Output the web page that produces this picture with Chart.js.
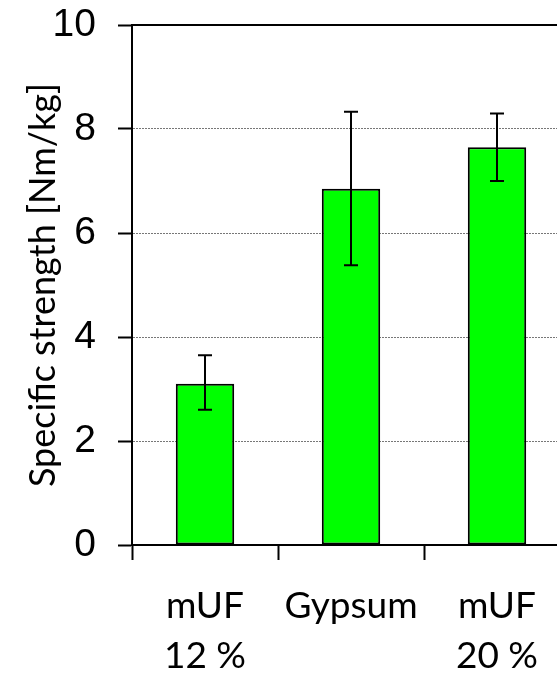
<!DOCTYPE html>
<html>
<head>
<meta charset="utf-8">
<script src="https://cdn.jsdelivr.net/npm/chart.js@4"></script>
<style>
  html, body { margin: 0; padding: 0; background: #fff; overflow: hidden; }
  #wrap { width: 580px; height: 673px; position: relative; }
</style>
</head>
<body>
<div id="wrap"><canvas id="strengthChart"></canvas></div>
<script>
// categories and measured values
const categories = [['mUF', '12 %'], ['Gypsum'], ['mUF', '20 %']];
const strengthMean = [3.1, 6.85, 7.65];
const strengthLow = [2.6, 5.38, 7.0];
const strengthHigh = [3.65, 8.33, 8.3];
const yTicks = [0, 2, 4, 6, 8, 10];

// error bars + top frame line
const errorBars = {
    id: 'errorBars',
    afterDatasetsDraw(chart) {
        const ctx = chart.ctx;
        const x = chart.scales.x;
        const y = chart.scales.y;
        const area = chart.chartArea;
        ctx.save();
        ctx.strokeStyle = '#000';
        ctx.lineWidth = 2;
        ctx.beginPath();
        ctx.moveTo(area.left, y.getPixelForValue(10));
        ctx.lineTo(area.right, y.getPixelForValue(10));
        ctx.stroke();
        strengthMean.forEach((v, i) => {
            const cx = x.getPixelForValue(i);
            const top = y.getPixelForValue(strengthHigh[i]);
            const bot = y.getPixelForValue(strengthLow[i]);
            ctx.beginPath();
            ctx.moveTo(cx, top);
            ctx.lineTo(cx, bot);
            ctx.moveTo(cx - 7, top);
            ctx.lineTo(cx + 7, top);
            ctx.moveTo(cx - 7, bot);
            ctx.lineTo(cx + 7, bot);
            ctx.stroke();
        });
        ctx.restore();
    }
};

const ctx = document.getElementById('strengthChart').getContext('2d');
new Chart(ctx, {
    type: 'bar',
    data: {
        labels: categories,
        datasets: [{
            data: strengthMean,
            backgroundColor: '#00ff00',
            borderColor: '#000',
            borderWidth: 2,
            borderSkipped: false,
            categoryPercentage: 1,
            barPercentage: 0.4
        }]
    },
    options: {
        responsive: true,
        maintainAspectRatio: false,
        animation: false,
        layout: { padding: { top: 25, right: 10, left: 22, bottom: 0 } },
        plugins: { legend: { display: false }, tooltip: { enabled: false } },
        scales: {
            x: {
                grid: {
                    offset: true,
                    drawOnChartArea: false,
                    tickLength: 15,
                    tickColor: '#000',
                    tickWidth: 2
                },
                border: { color: '#000', width: 2 },
                ticks: {
                    color: '#000',
                    padding: 21,
                    font: { family: 'Lato', size: 37, lineHeight: 1.35 }
                },
                afterFit(scale) { scale.height = 128; }
            },
            y: {
                min: 0,
                max: 10,
                afterBuildTicks(scale) { scale.ticks = yTicks.map(v => ({ value: v })); },
                grid: {
                    color: '#777',
                    lineWidth: 1,
                    tickLength: 14,
                    tickColor: '#000',
                    tickWidth: 2
                },
                border: { color: '#000', width: 2, dash: [2, 1] },
                ticks: {
                    color: '#000',
                    padding: 22,
                    font: { family: 'Liberation Sans', size: 39 }
                },
                title: {
                    display: true,
                    text: 'Specific strength [Nm/kg]',
                    color: '#000',
                    padding: { top: 0, bottom: 0 },
                    font: { family: 'Lato', size: 36 }
                },
                afterFit(scale) {
                    scale.width = 110;
                    scale.paddingTop = 0;
                    scale.paddingBottom = 0;
                }
            }
        }
    },
    plugins: [errorBars]
});
</script>
</body>
</html>
